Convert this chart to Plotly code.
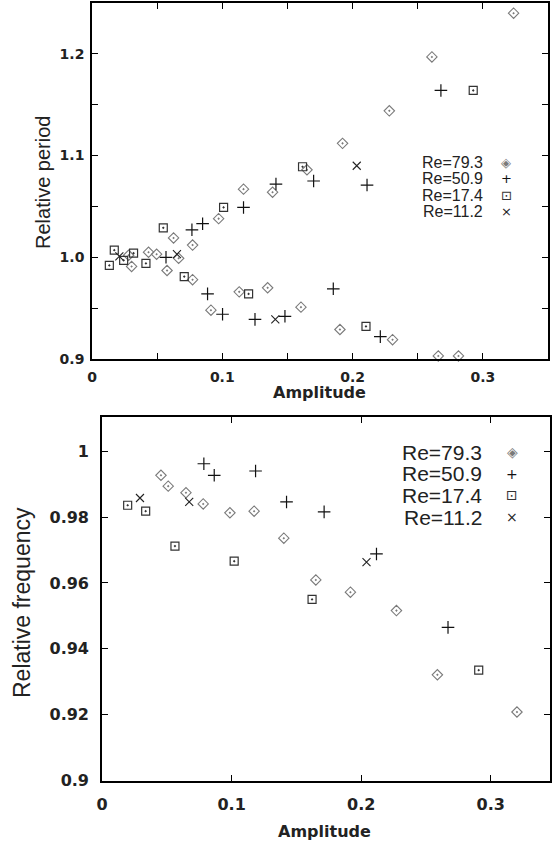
import plotly.graph_objects as go

# ---- data: relative period vs amplitude (top panel) ----
re79_amp_p = [0.0281, 0.0304, 0.0434, 0.0496, 0.0576, 0.0626, 0.0665, 0.0772, 0.0772, 0.0913,
              0.0972, 0.1130, 0.1163, 0.1348, 0.1386, 0.1604, 0.1650, 0.1903, 0.1923, 0.2282,
              0.2307, 0.2609, 0.2658, 0.2813, 0.3236]
re79_period = [1.002, 0.991, 1.005, 1.003, 0.987, 1.019, 0.999, 1.012, 0.978, 0.948,
               1.038, 0.966, 1.067, 0.970, 1.064, 0.951, 1.086, 0.929, 1.112, 1.144,
               0.919, 1.197, 0.903, 0.903, 1.240]

re51_amp_p = [0.0568, 0.0767, 0.0849, 0.0887, 0.1002, 0.1163, 0.1251, 0.1412, 0.1481, 0.1701,
              0.1852, 0.2111, 0.2213, 0.2678]
re51_period = [1.000, 1.027, 1.033, 0.964, 0.944, 1.049, 0.939, 1.072, 0.942, 1.075,
               0.969, 1.071, 0.922, 1.164]

re17_amp_p = [0.0133, 0.0171, 0.0243, 0.0319, 0.0414, 0.0547, 0.0708, 0.1010, 0.1202, 0.1616,
              0.2103, 0.2926]
re17_period = [0.992, 1.007, 0.997, 1.004, 0.994, 1.029, 0.981, 1.049, 0.964, 1.089,
               0.932, 1.164]

re11_amp_p = [0.0210, 0.0652, 0.1407, 0.2032]
re11_period = [1.001, 1.003, 0.939, 1.090]

# ---- data: relative frequency vs amplitude (bottom panel) ----
re79_amp_f = [0.0455, 0.0511, 0.0648, 0.0781, 0.0987, 0.1174, 0.1403, 0.1650, 0.1917, 0.2272,
              0.2588, 0.3202]
re79_freq = [0.9927, 0.9894, 0.9874, 0.9840, 0.9813, 0.9818, 0.9736, 0.9609, 0.9572, 0.9516,
             0.9321, 0.9208]

re51_amp_f = [0.0786, 0.0866, 0.1185, 0.1424, 0.1714, 0.2118, 0.2670]
re51_freq = [0.9962, 0.9927, 0.9940, 0.9846, 0.9816, 0.9688, 0.9465]

re17_amp_f = [0.0198, 0.0337, 0.0563, 0.1020, 0.1621, 0.2907]
re17_freq = [0.9836, 0.9818, 0.9712, 0.9666, 0.9550, 0.9335]

re11_amp_f = [0.0293, 0.0673, 0.2041]
re11_freq = [0.9858, 0.9846, 0.9663]

series_names = ["Re=79.3", "Re=50.9", "Re=17.4", "Re=11.2"]

# tick labels
top_xticks = [0, 0.05, 0.1, 0.15, 0.2, 0.25, 0.3, 0.35]
top_xlabels = ["0", "", "0.1", "", "0.2", "", "0.3", ""]
top_yticks = [0.9, 0.95, 1.0, 1.05, 1.1, 1.15, 1.2, 1.25]
top_ylabels = ["0.9", "", "1.0", "", "1.1", "", "1.2", ""]
bot_xticks = [0, 0.1, 0.2, 0.3]
bot_xlabels = ["0", "0.1", "0.2", "0.3"]
bot_yticks = [0.9, 0.92, 0.94, 0.96, 0.98, 1.0]
bot_ylabels = ["0.9", "0.92", "0.94", "0.96", "0.98", "1"]

# marker styles per series (diamond+dot, plus, square+dot, cross)
styles = [
    dict(symbol="diamond-open-dot", color="#7a7a7a", size=8, line=dict(width=1.1)),
    dict(symbol="cross-thin-open", color="#111111", size=9, line=dict(width=1.2)),
    dict(symbol="square-open-dot", color="#333333", size=8, line=dict(width=1.2)),
    dict(symbol="x-thin-open", color="#222222", size=8, line=dict(width=1.1)),
]
legend_glyphs = ["◈", "+", "⊡", "×"]
legend_colors = ["#7a7a7a", "#111111", "#333333", "#222222"]

fig = go.Figure()

top_sets = [(re79_amp_p, re79_period), (re51_amp_p, re51_period),
            (re17_amp_p, re17_period), (re11_amp_p, re11_period)]
bot_sets = [(re79_amp_f, re79_freq), (re51_amp_f, re51_freq),
            (re17_amp_f, re17_freq), (re11_amp_f, re11_freq)]

for name, (x, y), st in zip(series_names, top_sets, styles):
    fig.add_trace(go.Scatter(x=x, y=y, mode="markers", name=name, marker=st,
                             xaxis="x", yaxis="y", cliponaxis=False, showlegend=False))
for name, (x, y), st in zip(series_names, bot_sets, styles):
    fig.add_trace(go.Scatter(x=x, y=y, mode="markers", name=name, marker=st,
                             xaxis="x2", yaxis="y2", cliponaxis=False, showlegend=False))

W, H = 552, 843


def px_x(p):
    return p / W


def px_y(p):
    return 1 - p / H


tickfont_top = dict(family="DejaVu Sans", size=14, color="#222", weight="bold")
tickfont_bot = dict(family="DejaVu Sans", size=16, color="#222", weight="bold")
axis_common = dict(showline=True, linecolor="black", linewidth=1.6, mirror="ticks",
                   ticks="inside", ticklen=6, tickwidth=1.2, tickcolor="black",
                   showgrid=False, zeroline=False, automargin=False)

fig.update_layout(
    width=W, height=H,
    margin=dict(l=0, r=0, t=0, b=0),
    paper_bgcolor="white", plot_bgcolor="white",
    xaxis=dict(domain=[px_x(92), px_x(548)], range=[0, 0.35], anchor="y",
               tickvals=top_xticks, ticktext=top_xlabels, tickfont=tickfont_top,
               ticklabelstandoff=4, **axis_common),
    yaxis=dict(domain=[px_y(359), px_y(3)], range=[0.9, 1.25], anchor="x",
               tickvals=top_yticks, ticktext=top_ylabels, tickfont=tickfont_top,
               ticklabelstandoff=3, **axis_common),
    xaxis2=dict(domain=[px_x(102), px_x(550)], range=[0, 0.3457], anchor="y2",
                tickvals=bot_xticks, ticktext=bot_xlabels, tickfont=tickfont_bot,
                ticklabelstandoff=8, **axis_common),
    yaxis2=dict(domain=[px_y(780.5), px_y(417)], range=[0.9, 1.0104], anchor="x2",
                tickvals=bot_yticks, ticktext=bot_ylabels, tickfont=tickfont_bot,
                ticklabelstandoff=8, **axis_common),
)

title_font = dict(family="DejaVu Sans", size=16, color="#222", weight="bold")
annotations = []
# axis titles
annotations.append(dict(text="Amplitude", x=px_x(319), y=px_y(393), xref="paper", yref="paper",
                        xanchor="center", yanchor="middle", showarrow=False, font=title_font))
annotations.append(dict(text="Amplitude", x=px_x(324), y=px_y(831), xref="paper", yref="paper",
                        xanchor="center", yanchor="middle", showarrow=False, font=title_font))
annotations.append(dict(text="Relative period", x=px_x(43), y=px_y(183), xref="paper", yref="paper",
                        xanchor="center", yanchor="middle", showarrow=False, textangle=-90,
                        font=dict(family="Liberation Sans", size=20, color="#222")))
annotations.append(dict(text="Relative frequency", x=px_x(22), y=px_y(603), xref="paper", yref="paper",
                        xanchor="center", yanchor="middle", showarrow=False, textangle=-90,
                        font=dict(family="Liberation Sans", size=23, color="#222")))

# key (gnuplot style: label right-aligned, symbol on the right)
top_key_y = [162, 178.5, 195, 211.5]
bot_key_y = [452, 473.5, 495, 517]
for i, name in enumerate(series_names):
    annotations.append(dict(text=name, x=px_x(485), y=px_y(top_key_y[i]), xref="paper", yref="paper",
                            xanchor="right", yanchor="middle", showarrow=False,
                            font=dict(family="Liberation Sans", size=16, color="#222")))
    annotations.append(dict(text=legend_glyphs[i], x=px_x(506), y=px_y(top_key_y[i]), xref="paper",
                            yref="paper", xanchor="center", yanchor="middle", showarrow=False,
                            font=dict(family="DejaVu Sans", size=13, color=legend_colors[i])))
    annotations.append(dict(text=name, x=px_x(484), y=px_y(bot_key_y[i]), xref="paper", yref="paper",
                            xanchor="right", yanchor="middle", showarrow=False,
                            font=dict(family="Liberation Sans", size=21, color="#222")))
    annotations.append(dict(text=legend_glyphs[i], x=px_x(512), y=px_y(bot_key_y[i]), xref="paper",
                            yref="paper", xanchor="center", yanchor="middle", showarrow=False,
                            font=dict(family="DejaVu Sans", size=14, color=legend_colors[i])))

fig.update_layout(annotations=annotations)

# page body has a default 8px margin; drop it so the figure fills the window
fig.write_html("out.html", config={"displayModeBar": False},
               post_script="document.body.style.margin='0';")
